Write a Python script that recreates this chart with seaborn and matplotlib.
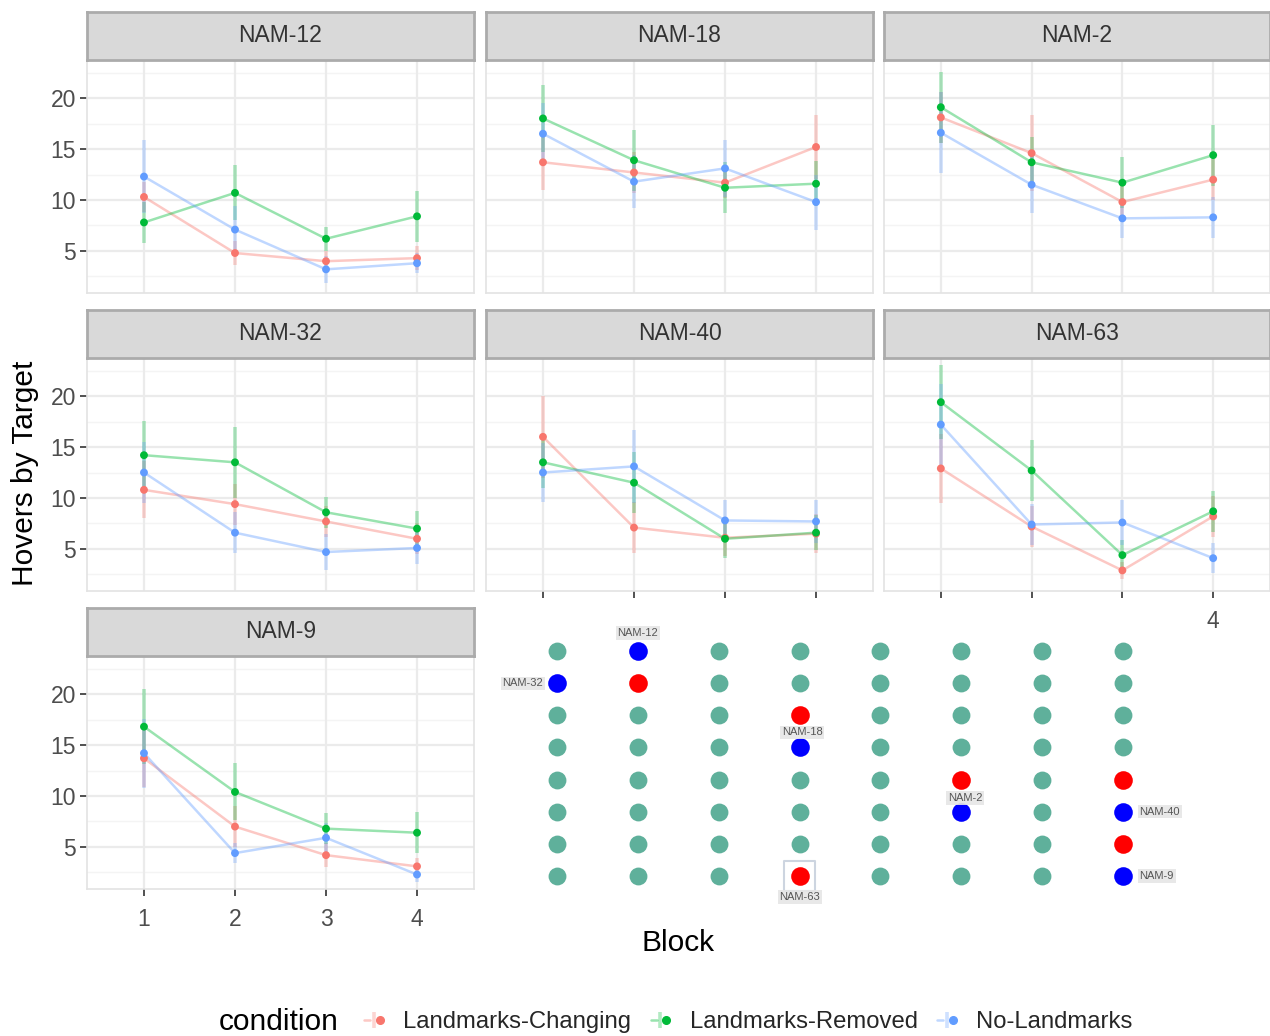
import numpy as np
import pandas as pd
import matplotlib
matplotlib.use("Agg")
import matplotlib.pyplot as plt
import seaborn as sns
from matplotlib.lines import Line2D
from matplotlib.legend_handler import HandlerTuple

# ---------------- data ----------------
blocks = [1, 2, 3, 4]
facets = ["NAM-12", "NAM-18", "NAM-2", "NAM-32", "NAM-40", "NAM-63", "NAM-9"]
conditions = ["Landmarks-Changing", "Landmarks-Removed", "No-Landmarks"]
palette = ["#F8766D", "#00BA38", "#619CFF"]

# mean hovers per facet (rows) and block (columns)
lc_mean = [[10.3, 4.8, 4.0, 4.3],
           [13.7, 12.7, 11.7, 15.2],
           [18.1, 14.6, 9.8, 12.0],
           [10.8, 9.4, 7.7, 6.0],
           [16.0, 7.1, 6.1, 6.5],
           [12.9, 7.2, 2.9, 8.2],
           [13.7, 7.0, 4.2, 3.1]]
lr_mean = [[7.8, 10.7, 6.2, 8.4],
           [18.0, 13.9, 11.2, 11.6],
           [19.1, 13.7, 11.7, 14.4],
           [14.2, 13.5, 8.6, 7.0],
           [13.5, 11.5, 6.0, 6.6],
           [19.4, 12.7, 4.4, 8.7],
           [16.8, 10.4, 6.8, 6.4]]
nl_mean = [[12.3, 7.1, 3.2, 3.8],
           [16.5, 11.8, 13.1, 9.8],
           [16.6, 11.5, 8.2, 8.3],
           [12.5, 6.6, 4.7, 5.1],
           [12.5, 13.1, 7.8, 7.7],
           [17.2, 7.4, 7.6, 4.1],
           [14.2, 4.4, 5.9, 2.3]]
# error-bar half widths
lc_err = [[1.5, 1.2, 1.0, 1.2],
          [2.7, 2.0, 1.5, 3.1],
          [2.5, 3.7, 2.0, 2.0],
          [2.8, 2.0, 1.5, 1.5],
          [4.0, 2.5, 1.8, 1.9],
          [3.4, 2.0, 0.8, 2.0],
          [2.8, 2.0, 1.2, 0.8]]
lr_err = [[2.0, 2.7, 1.2, 2.5],
          [3.3, 3.0, 2.5, 2.2],
          [3.5, 2.5, 2.5, 3.0],
          [3.4, 3.5, 1.5, 1.7],
          [2.5, 3.0, 1.9, 1.7],
          [3.6, 3.0, 1.5, 2.0],
          [3.7, 2.8, 1.5, 2.0]]
nl_err = [[3.6, 2.3, 1.3, 1.0],
          [3.0, 2.6, 2.8, 2.7],
          [4.0, 2.8, 1.9, 2.0],
          [3.0, 2.0, 1.8, 1.6],
          [2.9, 3.6, 2.0, 2.1],
          [4.0, 2.0, 2.2, 1.5],
          [3.4, 1.0, 1.5, 0.7]]

y_ticks = [5, 10, 15, 20]
# x tick labels left visible per facet (the others are hidden under the inset map)
visible_xlabels = {"NAM-40": [], "NAM-63": [4], "NAM-9": [1, 2, 3, 4]}

# inset grid map
grid_cols = [1, 2, 3, 4, 5, 6, 7, 8]
grid_rows = [1, 2, 3, 4, 5, 6, 7, 8]
red_cells = [(2, 2), (4, 3), (6, 5), (8, 5), (8, 7), (4, 8)]
blue_cells = [(2, 1), (1, 2), (4, 4), (6, 6), (8, 6), (8, 8)]
boxed_cell = (4, 8)
cell_labels = ["NAM-12", "NAM-32", "NAM-18", "NAM-2", "NAM-40", "NAM-9", "NAM-63"]
label_cells = [(2, 1), (1, 2), (4, 4), (6, 6), (8, 6), (8, 8), (4, 8)]

# ---------------- long table ----------------
rows = []
for fi, f in enumerate(facets):
    for cond, m, e in zip(conditions, [lc_mean, lr_mean, nl_mean], [lc_err, lr_err, nl_err]):
        for bi, b in enumerate(blocks):
            rows.append(dict(facet=f, condition=cond, block=b, mean=m[fi][bi],
                             lo=m[fi][bi] - e[fi][bi], hi=m[fi][bi] + e[fi][bi]))
df = pd.DataFrame(rows)

# ---------------- style ----------------
sns.set_theme(style="white")
plt.rcParams["font.family"] = ["Liberation Sans", "DejaVu Sans"]

W, H = 1270, 1036
fig = plt.figure(figsize=(W / 100, H / 100), dpi=100)
fig.patch.set_facecolor("white")

def px_axes(x0, y0, x1, y1):
    return fig.add_axes([x0 / W, 1 - y1 / H, (x1 - x0) / W, (y1 - y0) / H])

col_x = [(87, 474), (486, 873), (884, 1270)]
row_panel = [(60, 293), (358, 591), (656, 889)]
row_strip = [(12, 60), (310, 358), (608, 656)]

BIG = 21.5
SMALL = 16.5
cmap = dict(zip(conditions, palette))

for fi, f in enumerate(facets):
    r, c = divmod(fi, 3)
    x0, x1 = col_x[c]
    y0, y1 = row_panel[r]
    ax = px_axes(x0, y0, x1, y1)
    sub = df[df.facet == f]

    ax.set_facecolor("white")
    for yy in [2.5, 7.5, 12.5, 17.5, 22.5]:
        ax.axhline(yy, color="#F4F4F4", lw=1.0, zorder=0)
    for yy in y_ticks:
        ax.axhline(yy, color="#EBEBEB", lw=1.6, zorder=0)
    for xx in blocks:
        ax.axvline(xx, color="#EBEBEB", lw=1.6, zorder=0)

    # error bars
    for cond in conditions:
        s = sub[sub.condition == cond]
        ax.vlines(s.block, s.lo, s.hi, colors=cmap[cond], alpha=0.3, lw=2.6, zorder=2)

    sns.lineplot(data=sub, x="block", y="mean", hue="condition", hue_order=conditions,
                 palette=palette, ax=ax, legend=False, errorbar=None, alpha=0.4, lw=1.8,
                 zorder=3)
    sns.scatterplot(data=sub, x="block", y="mean", hue="condition", hue_order=conditions,
                    palette=palette, ax=ax, legend=False, s=32, linewidth=0, zorder=4)

    ax.set_xlim(0.374, 4.626)
    ax.set_ylim(0.88, 23.73)
    ax.set_xticks(blocks)
    ax.set_yticks(y_ticks)
    ax.set_xlabel("")
    ax.set_ylabel("")
    for sp in ax.spines.values():
        sp.set_color("#E3E3E3")
        sp.set_linewidth(1.2)

    show_y = (c == 0)
    show_x = f in visible_xlabels
    if show_x:
        ax.set_xticklabels([str(b) if b in visible_xlabels[f] else "" for b in blocks])
    ax.tick_params(axis="y", left=show_y, labelleft=show_y, length=5, width=1.2,
                   color="#333333", labelcolor="#4D4D4D", labelsize=SMALL, pad=3)
    ax.tick_params(axis="x", bottom=show_x, labelbottom=show_x, length=5, width=1.2,
                   color="#333333", labelcolor="#4D4D4D", labelsize=SMALL, pad=9)

    # strip
    sy0, sy1 = row_strip[r]
    sax = px_axes(x0, sy0, x1, sy1)
    sax.set_facecolor("#D9D9D9")
    sax.set_xticks([])
    sax.set_yticks([])
    for sp in sax.spines.values():
        sp.set_color("#ABABAB")
        sp.set_linewidth(2.0)
    sax.text(0.5, 0.5, f, ha="center", va="center", fontsize=SMALL, color="#333333",
             transform=sax.transAxes)

# ---------------- inset map ----------------
iax = px_axes(480, 605, 1192, 912)
iax.set_zorder(10)
iax.set_facecolor("white")
gx, gy = np.meshgrid(grid_cols, grid_rows)
grid_df = pd.DataFrame({"col": gx.ravel(), "row": gy.ravel()})
special = set(red_cells) | set(blue_cells)
grid_df = grid_df[[(a, b) not in special for a, b in zip(grid_df.col, grid_df.row)]]
sns.scatterplot(data=grid_df, x="col", y="row", color="#5FB09B", s=165, linewidth=0,
                ax=iax, legend=False)
red_df = pd.DataFrame(red_cells, columns=["col", "row"])
blue_df = pd.DataFrame(blue_cells, columns=["col", "row"])
sns.scatterplot(data=red_df, x="col", y="row", color="#FF0000", s=180, linewidth=0,
                ax=iax, legend=False, zorder=4)
sns.scatterplot(data=blue_df, x="col", y="row", color="#0000FF", s=180, linewidth=0,
                ax=iax, legend=False, zorder=4)
iax.scatter([boxed_cell[0]], [boxed_cell[1]], marker="s", s=480, facecolors="none",
            edgecolors="#CDD5E0", linewidths=1.5, zorder=3)

offsets = [(0, 13, "center", "center"), (-10, 0, "right", "center"), (2, 11, "center", "center"),
           (3, 10, "center", "center"), (12, 0, "left", "center"), (12, 0, "left", "center"),
           (0, -15, "center", "center")]
for lab, (cx, cy), (dx, dy, ha, va) in zip(cell_labels, label_cells, offsets):
    iax.annotate(lab, (cx, cy), xytext=(dx, dy), textcoords="offset points", ha=ha, va=va,
                 fontsize=8, color="#555555", zorder=6,
                 bbox=dict(boxstyle="square,pad=0.15", facecolor="#E6E6E6", edgecolor="none",
                           alpha=0.9))
iax.set_xlim(0.045, 8.856)
iax.set_ylim(9.12, -0.433)
iax.set_axis_off()
iax.add_artist(plt.Rectangle((0, 0), 1, 1, transform=iax.transAxes, facecolor="white",
                             edgecolor="none", zorder=-1))

# ---------------- titles ----------------
fig.text(678 / W, 1 - 943 / H, "Block", ha="center", va="center", fontsize=BIG, color="black")
fig.text(25 / W, 1 - 473 / H, "Hovers by Target", ha="center", va="center", rotation=90,
         fontsize=BIG, color="black")

# ---------------- legend ----------------
handles = []
for col in palette:
    ln = Line2D([], [], color=col, lw=1.8, alpha=0.4)
    vb = Line2D([], [], color=col, lw=0, marker="|", markersize=11, markeredgewidth=2.6,
                alpha=0.3)
    pt = Line2D([], [], color=col, lw=0, marker="o", markersize=5.5)
    handles.append((ln, vb, pt))
fig.text(219 / W, 1 - 1022 / H, "condition", ha="left", va="center", fontsize=BIG,
         color="black")
fig.legend(handles, conditions, handler_map={tuple: HandlerTuple(ndivide=None)},
           loc="center left", bbox_to_anchor=(364 / W, 1 - 1022 / H), ncol=3,
           frameon=False, fontsize=17.2, handlelength=0.8, handletextpad=0.85,
           columnspacing=0.8, borderaxespad=0, borderpad=0)

fig.savefig("out.png", dpi=100, facecolor="white")
